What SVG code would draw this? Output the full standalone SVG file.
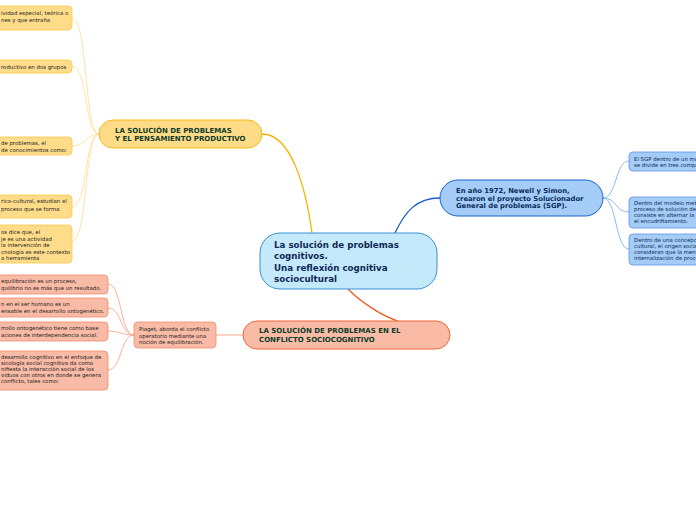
<svg xmlns="http://www.w3.org/2000/svg" width="696" height="520" viewBox="0 0 696 520">
<style>
text{font-family:"DejaVu Sans","Liberation Sans",sans-serif}
.c{font-size:5.4px;fill:#222}
.cb{font-size:5.4px;fill:#0b2a55}
.br{font-size:7px;font-weight:bold;fill:#0e3b2a}
.bb{font-size:6.8px;font-weight:bold;fill:#0a2b5c}
.ctr{font-size:8.7px;font-weight:bold;fill:#0f2a55}
.yn{fill:#fedc8a;stroke:#f9c94a;stroke-width:0.8}
.sn{fill:#f9bba6;stroke:#f38b6c;stroke-width:0.8}
.bn{fill:#a4ccf7;stroke:#5b95e6;stroke-width:0.8}
.yl{fill:none;stroke:#fde09a;stroke-width:0.9}
.sl{fill:none;stroke:#f6a88f;stroke-width:0.9}
.bl{fill:none;stroke:#86b1ee;stroke-width:0.9}
</style>
<rect width="696" height="520" fill="#ffffff"/>
<g id="connectors">
<path d="M262,134 C292,134 306,190 312,233" fill="none" stroke="#f7b200" stroke-width="1.3"/>
<path d="M395,233 C405,212 416,198 440,198" fill="none" stroke="#1a5cc8" stroke-width="1.3"/>
<path d="M348,289 C362,303 382,316 398,321" fill="none" stroke="#f15a24" stroke-width="1.3"/>
<path d="M243,335 L216,335" fill="none" stroke="#f6a88f" stroke-width="1"/>
<path class="yl" d="M99,134 C84,134 88,18 72,18"/>
<path class="yl" d="M99,134 C84,134 88,66 72,66"/>
<path class="yl" d="M99,134 C86,134 86,146 72,146"/>
<path class="yl" d="M99,134 C84,134 88,207 72,207"/>
<path class="yl" d="M99,134 C84,134 88,241 72,241"/>
<path class="sl" d="M134,335 C120,335 122,284 108,284"/>
<path class="sl" d="M134,335 C120,335 122,308 108,308"/>
<path class="sl" d="M134,335 C122,335 120,331 108,331"/>
<path class="sl" d="M134,335 C120,335 122,370 108,370"/>
<path class="bl" d="M603,198 C617,198 615,161 629,161"/>
<path class="bl" d="M603,198 C617,198 615,212 629,212"/>
<path class="bl" d="M603,198 C617,198 615,249 629,249"/>
</g>
<g id="center">
<rect x="260" y="233" width="177" height="56" rx="20" fill="#c4e9fb" stroke="#3a8fd6" stroke-width="1"/>
<text class="ctr" x="274" y="247.5">La solución de problemas</text>
<text class="ctr" x="274" y="259">cognitivos.</text>
<text class="ctr" x="274" y="270.5">Una reflexión cognitiva</text>
<text class="ctr" x="274" y="282">sociocultural</text>
</g>
<g id="yellow-branch">
<rect x="99" y="120" width="163" height="28" rx="14" fill="#fedb86" stroke="#f8b915" stroke-width="1"/>
<text class="br" x="115" y="132.5">LA SOLUCIÓN DE PROBLEMAS</text>
<text class="br" x="115" y="140.5">Y EL PENSAMIENTO PRODUCTIVO</text>
</g>
<g id="y1">
<rect class="yn" x="-10" y="6" width="82" height="24" rx="4"/>
<text class="c" x="1" y="15">ividad especial, teórica o</text>
<text class="c" x="1" y="22">nes y que entraña</text>
</g>
<g id="y2">
<rect class="yn" x="-10" y="60" width="82" height="13" rx="4"/>
<text class="c" x="1" y="68.5">roductivo en dos grupos</text>
</g>
<g id="y3">
<rect class="yn" x="-10" y="137" width="82" height="18" rx="4"/>
<text class="c" x="1" y="145">de problemas, el</text>
<text class="c" x="1" y="151.5">de conocimientos como:</text>
</g>
<g id="y4">
<rect class="yn" x="-10" y="195" width="82" height="23" rx="4"/>
<text class="c" x="1" y="203">rico-cultural, estudian el</text>
<text class="c" x="1" y="210.5">proceso que se forma</text>
</g>
<g id="y5">
<rect class="yn" x="-10" y="225" width="82" height="38" rx="4"/>
<text class="c" x="1" y="234">os dice que, el</text>
<text class="c" x="1" y="240.5">je es una actividad</text>
<text class="c" x="1" y="247">la intervención de</text>
<text class="c" x="1" y="253.5">cnología es este contexto</text>
<text class="c" x="1" y="260">a herramienta</text>
</g>
<g id="salmon-branch">
<rect x="243" y="321" width="207" height="28" rx="14" fill="#f9bba6" stroke="#f26639" stroke-width="1"/>
<text class="br" x="259" y="332.5">LA SOLUCIÓN DE PROBLEMAS EN EL</text>
<text class="br" x="259" y="341.5">CONFLICTO SOCIOCOGNITIVO</text>
</g>
<g id="piaget">
<rect class="sn" x="134" y="322" width="82" height="26" rx="4"/>
<text class="c" x="139" y="331">Piaget, aborda el conflicto</text>
<text class="c" x="139" y="337.5">operatorio mediante una</text>
<text class="c" x="139" y="344">noción de equilibración.</text>
</g>
<g id="s1">
<rect class="sn" x="-10" y="275" width="118" height="19" rx="4"/>
<text class="c" x="1" y="283">equilibración es un proceso,</text>
<text class="c" x="1" y="289.5">quilibrio no es más que un resultado.</text>
</g>
<g id="s2">
<rect class="sn" x="-10" y="298" width="118" height="19" rx="4"/>
<text class="c" x="1" y="306">n en el ser humano es un</text>
<text class="c" x="1" y="313">ensable en el desarrollo ontogenético.</text>
</g>
<g id="s3">
<rect class="sn" x="-10" y="322" width="118" height="19" rx="4"/>
<text class="c" x="1" y="330">rrollo ontogenético tiene como base</text>
<text class="c" x="1" y="337">aciones de interdependencia social.</text>
</g>
<g id="s4">
<rect class="sn" x="-10" y="351" width="118" height="39" rx="4"/>
<text class="c" x="1" y="359">desarrollo cognitivo en el enfoque de</text>
<text class="c" x="1" y="365">sicología social cognitiva da como</text>
<text class="c" x="1" y="371">nifiesta la interacción social de los</text>
<text class="c" x="1" y="377">viduos con otros en donde se genera</text>
<text class="c" x="1" y="383">conflicto, tales como:</text>
</g>
<g id="blue-branch">
<rect x="440" y="180" width="163" height="36" rx="18" fill="#a4ccf7" stroke="#1b63c9" stroke-width="1"/>
<text class="bb" x="456" y="193">En año 1972, Newell y Simon,</text>
<text class="bb" x="456" y="200.5">crearon el proyecto Solucionador</text>
<text class="bb" x="456" y="208">General de problemas (SGP).</text>
</g>
<g id="b1">
<rect class="bn" x="629" y="152" width="80" height="19" rx="4"/>
<text class="cb" x="634" y="160.5">El SGP dentro de un modelo</text>
<text class="cb" x="634" y="166.5">se divide en tres componentes</text>
</g>
<g id="b2">
<rect class="bn" x="629" y="197" width="80" height="31" rx="4"/>
<text class="cb" x="634" y="205">Dentro del modelo metodológico</text>
<text class="cb" x="634" y="211">proceso de solución de</text>
<text class="cb" x="634" y="217">consiste en alternar la</text>
<text class="cb" x="634" y="223">el encudrifiamiento.</text>
</g>
<g id="b3">
<rect class="bn" x="629" y="234" width="80" height="31" rx="4"/>
<text class="cb" x="634" y="242">Dentro de una concepción</text>
<text class="cb" x="634" y="248">cultural, el origen social</text>
<text class="cb" x="634" y="254">consideran que la mente</text>
<text class="cb" x="634" y="260">internalización de procesos</text>
</g>
</svg>
